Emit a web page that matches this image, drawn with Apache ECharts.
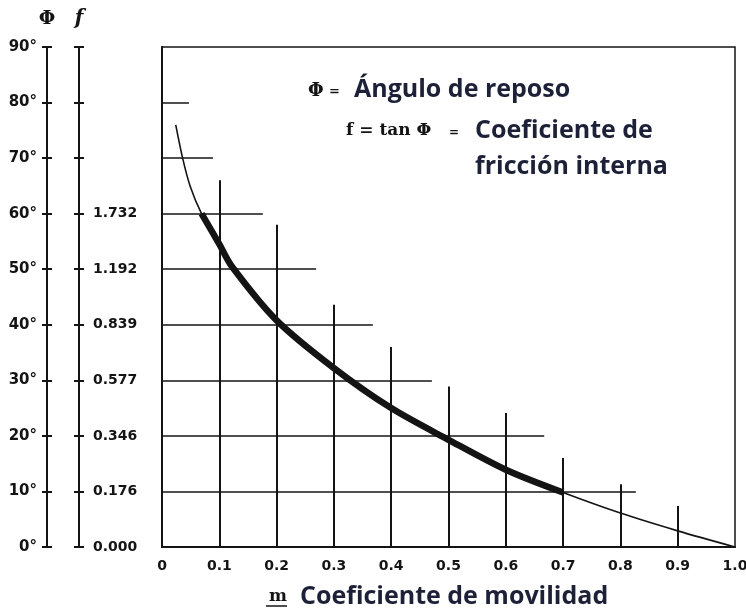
<!DOCTYPE html>
<html>
<head>
  <meta charset="utf-8">
  <title>Coeficiente de movilidad</title>
  <script src="https://cdn.jsdelivr.net/npm/echarts@6/dist/echarts.min.js"></script>
  <style>
    body { margin: 0; padding: 0; background: #fff; }
    #main { width: 746px; height: 614px; }
  </style>
</head>
<body>
<div id="main"></div>
<script>
  // eje m (coeficiente de movilidad)
  var mTicks = [0, 0.1, 0.2, 0.3, 0.4, 0.5, 0.6, 0.7, 0.8, 0.9, 1.0];
  // eje Φ en grados y valores de f = tan Φ
  var phiTicks = [0, 10, 20, 30, 40, 50, 60, 70, 80, 90];
  var fTickLabels = ['0.000', '0.176', '0.346', '0.577', '0.839', '1.192', '1.732', '', '', ''];

  // curva Φ(m)
  var curveM   = [0.024, 0.036, 0.049, 0.069, 0.1, 0.122, 0.2, 0.3, 0.4, 0.5, 0.6, 0.7, 0.8, 0.9, 1.0];
  var curvePhi = [76, 70, 65, 60, 54.5, 50.5, 40.8, 32.2, 25, 19.3, 13.9, 9.8, 6.1, 2.9, 0];
  // tramo grueso
  var boldFrom = 0.069, boldTo = 0.7;

  // lineas horizontales (nivel Φ, hasta m)
  var hLevels = [10, 20, 30, 40, 50, 60, 70, 80];
  var hEnds   = [0.827, 0.667, 0.471, 0.368, 0.269, 0.176, 0.089, 0.047];
  // lineas verticales (m, hasta Φ)
  var vPos  = [0.1, 0.2, 0.3, 0.4, 0.5, 0.6, 0.7, 0.8, 0.9];
  var vTops = [66, 58, 43.6, 36, 28.9, 24.1, 16, 11.3, 7.4];

  var ink = '#141414';
  var navy = '#1c2138';
  var sans = 'bold 25px "Open Sans"';

  var curveData = curveM.map(function (m, i) { return [m, curvePhi[i]]; });
  var boldData = curveData.filter(function (p) { return p[0] >= boldFrom && p[0] <= boldTo; });
  var hLines = hLevels.map(function (lv, i) { return { coords: [[0, lv], [hEnds[i], lv]] }; });
  var vLines = vPos.map(function (m, i) { return { coords: [[m, 0], [m, vTops[i]]] }; });

  var labelFont = { fontFamily: 'DejaVu Sans', fontWeight: 'bold', fontSize: 14, color: ink };

  function sideAxis(offset, opts) {
    var a = {
      type: 'value', position: 'left', offset: offset,
      min: 0, max: 90, interval: 10,
      axisLine: { show: true, lineStyle: { color: ink, width: 2 } },
      axisTick: { show: true, inside: opts.tickInside, length: 5, lineStyle: { color: ink, width: 2 } },
      axisLabel: { show: false },
      splitLine: { show: false }
    };
    if (opts.label) a.axisLabel = opts.label;
    if (opts.name) {
      a.name = opts.name;
      a.nameLocation = 'end';
      a.nameGap = 18;
      a.nameTextStyle = opts.nameStyle;
    }
    return a;
  }

  var myChart = echarts.init(document.getElementById('main'));
  var option = {
    animation: false,
    backgroundColor: '#fff',
    grid: {
      left: 162, top: 47, right: 11, bottom: 67,
      show: true, borderColor: ink, borderWidth: 1.5,
      outerBoundsMode: 'none'
    },
    xAxis: {
      type: 'value', min: 0, max: 1, interval: 0.1,
      axisLine: { show: true, lineStyle: { color: ink, width: 2 } },
      axisTick: { show: false },
      splitLine: { show: false },
      axisLabel: Object.assign({
        margin: 12,
        formatter: function (v) { return v === 0 ? '0' : v.toFixed(1); }
      }, labelFont)
    },
    yAxis: [
      {
        type: 'value', min: 0, max: 90, interval: 10,
        axisLine: { show: true, lineStyle: { color: ink, width: 2 } },
        axisTick: { show: false }, axisLabel: { show: false }, splitLine: { show: false }
      },
      sideAxis(115, {
        tickInside: false,
        label: Object.assign({ margin: 10, formatter: function (v) { return v + '°'; } }, labelFont, { fontSize: 15 }),
        name: 'Φ',
        nameStyle: { fontFamily: 'DejaVu Serif', fontWeight: 'bold', fontSize: 19, color: ink }
      }),
      sideAxis(115, { tickInside: true }),
      sideAxis(83, {
        tickInside: true,
        label: Object.assign({
          inside: true, margin: 14,
          formatter: function (v) { return fTickLabels[phiTicks.indexOf(v)]; }
        }, labelFont),
        name: 'f',
        nameStyle: { fontFamily: 'DejaVu Serif', fontStyle: 'italic', fontWeight: 'bold', fontSize: 20, color: ink }
      }),
      sideAxis(83, { tickInside: false })
    ],
    graphic: [
      { type: 'text', style: { x: 308, y: 91, text: 'Φ', font: 'bold 18px "DejaVu Serif"', fill: ink, verticalAlign: 'middle' } },
      { type: 'text', style: { x: 329, y: 92, text: '=', font: 'bold 13px "DejaVu Serif"', fill: ink, verticalAlign: 'middle' } },
      { type: 'text', style: { x: 354, y: 90, text: 'Ángulo de reposo', font: sans, fill: navy, verticalAlign: 'middle' } },
      { type: 'text', style: { x: 346, y: 131, text: 'f = tan Φ', font: 'bold 17px "DejaVu Serif"', fill: ink, verticalAlign: 'middle' } },
      { type: 'text', style: { x: 449, y: 133, text: '=', font: 'bold 12px "DejaVu Serif"', fill: ink, verticalAlign: 'middle' } },
      { type: 'text', style: { x: 475, y: 131, text: 'Coeficiente de', font: sans, fill: navy, verticalAlign: 'middle' } },
      { type: 'text', style: { x: 475, y: 167, text: 'fricción interna', font: sans, fill: navy, verticalAlign: 'middle' } },
      { type: 'text', style: { x: 269, y: 597, text: 'm', font: 'bold 17px "DejaVu Serif"', fill: ink, verticalAlign: 'middle' } },
      { type: 'line', shape: { x1: 266, y1: 606, x2: 287, y2: 606 }, style: { stroke: ink, lineWidth: 1.5 } },
      { type: 'text', style: { x: 300, y: 597, text: 'Coeficiente de movilidad', font: sans, fill: navy, verticalAlign: 'middle' } }
    ],
    series: [
      {
        type: 'lines', coordinateSystem: 'cartesian2d', yAxisIndex: 0,
        data: hLines, silent: true,
        lineStyle: { color: ink, width: 1.6, opacity: 1 }
      },
      {
        type: 'lines', coordinateSystem: 'cartesian2d', yAxisIndex: 0,
        data: vLines, silent: true,
        lineStyle: { color: ink, width: 2, opacity: 1 }
      },
      {
        type: 'line', yAxisIndex: 0, data: curveData,
        smooth: 0.3, symbol: 'none',
        lineStyle: { color: ink, width: 1.6 }
      },
      {
        type: 'line', yAxisIndex: 0, data: boldData,
        smooth: 0.3, symbol: 'none',
        lineStyle: { color: ink, width: 6.5 }
      }
    ]
  };
  myChart.setOption(option);
  window.addEventListener('resize', function () {
    myChart.resize();
  });
</script>
</body>
</html>
